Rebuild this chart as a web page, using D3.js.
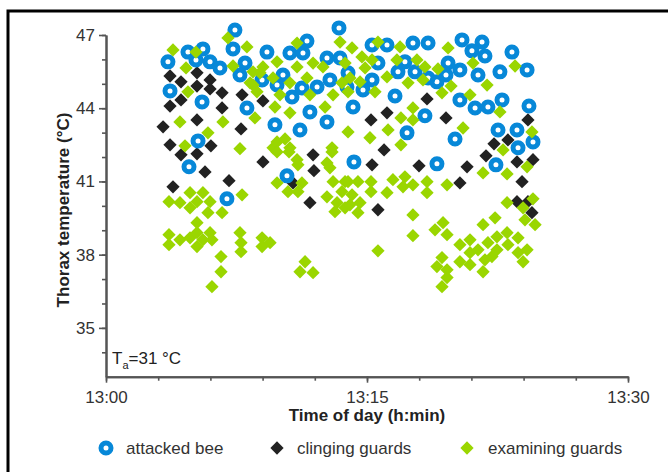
<!DOCTYPE html>
<html>
<head>
<meta charset="utf-8">
<script src="https://cdn.jsdelivr.net/npm/d3@7"></script>
<style>
  body { margin: 0; background: #fff; }
  text { font-family: "Liberation Sans", Arial, sans-serif; }
</style>
</head>
<body>
<div id="chart"></div>
<script>
// minutes after 13:00, thorax temperature (°C)
var attacked = [
  [3.56,45.90],[4.71,46.30],[5.17,45.98],[5.57,46.43],[5.98,45.90],[6.55,45.65],[7.30,46.43],[7.41,47.20],
  [7.99,45.85],[7.70,45.36],[8.97,45.16],[9.25,46.30],[10.17,45.36],[9.83,44.95],[10.57,46.26],[11.32,46.26],
  [11.55,46.75],[10.69,44.46],[11.26,44.83],[12.13,44.87],[12.70,46.06],[13.45,46.06],[12.87,45.16],[13.85,44.87],
  [13.39,47.29],[3.68,44.71],[5.52,44.26],[8.10,44.01],[9.71,43.32],[11.15,43.11],[11.72,43.85],[12.70,43.44],
  [5.29,42.66],[4.77,41.60],[6.95,40.29],[10.40,41.23],[15.29,46.59],[16.15,46.59],[17.64,46.67],[18.51,46.67],
  [20.46,46.80],[21.61,46.71],[21.03,46.35],[21.78,46.14],[23.33,46.30],[24.20,45.57],[22.64,45.49],[21.38,45.36],
  [20.34,45.57],[19.66,45.85],[19.54,45.36],[19.02,45.08],[17.76,45.49],[17.18,45.90],[16.78,45.49],[15.63,45.85],
  [15.29,45.16],[14.77,44.75],[13.91,45.45],[14.20,44.05],[16.61,44.50],[18.33,43.69],[17.30,42.99],[20.34,44.34],
  [21.21,44.01],[21.95,44.05],[22.76,44.34],[24.31,44.09],[22.53,43.11],[23.62,43.11],[24.54,42.62],[23.68,42.38],
  [20.06,42.74],[14.25,41.80],[19.02,41.72],[22.41,41.68],[18.51,45.24]
];

var clinging = [
  [3.68,45.32],[4.31,45.08],[5.23,45.45],[5.23,44.91],[5.98,45.16],[5.98,44.79],[6.67,44.63],[7.82,44.55],
  [9.02,44.30],[3.68,44.09],[4.31,44.34],[5.23,43.52],[6.67,44.01],[3.28,43.24],[7.76,43.15],[3.68,42.50],
  [4.31,42.09],[5.23,42.13],[6.03,42.46],[5.69,41.39],[3.85,40.78],[7.07,41.03],[9.02,41.80],[11.90,42.09],
  [11.95,41.44],[11.72,40.13],[10.75,40.94],[18.45,44.38],[16.15,43.81],[15.23,43.52],[19.54,43.60],[15.98,42.29],
  [15.29,41.68],[17.99,41.64],[20.75,41.60],[20.34,40.94],[15.63,39.84],[24.25,43.52],[23.10,42.70],[22.30,42.54],
  [21.84,42.05],[23.62,41.80],[24.54,41.89],[23.91,40.99],[23.62,40.17],[24.25,40.17],[24.48,39.72]
];

var examining = [
  [3.85,46.39],[5.17,46.30],[7.01,46.88],[8.10,46.51],[4.60,45.65],[7.30,45.73],[8.85,45.45],[8.45,44.95],
  [9.83,45.90],[10.98,46.67],[9.60,45.24],[10.57,45.04],[11.55,45.24],[8.28,45.04],[8.68,44.67],[10.00,44.55],
  [10.98,45.69],[11.90,45.85],[12.47,45.69],[13.45,46.71],[13.74,45.85],[11.72,44.55],[13.56,45.04],[13.05,44.55],
  [4.71,44.67],[9.71,44.05],[10.57,43.81],[12.59,44.05],[8.56,43.60],[4.25,43.44],[6.72,43.44],[5.86,42.99],
  [4.54,42.46],[7.70,42.34],[9.60,42.38],[9.83,42.62],[10.29,42.74],[10.57,42.38],[12.99,42.38],[13.91,43.03],
  [10.52,42.21],[9.83,42.21],[10.98,41.89],[11.03,41.68],[12.70,41.76],[12.87,41.56],[13.05,40.99],[9.83,40.94],
  [10.46,40.58],[11.03,40.58],[11.26,40.94],[12.70,40.37],[13.28,40.13],[13.56,40.58],[13.16,39.76],[13.74,39.92],
  [13.74,40.99],[12.99,42.21],[7.82,40.45],[9.02,45.69],[8.45,45.49],
  [3.62,40.17],[4.25,40.13],[4.83,40.54],[5.57,40.54],[5.23,40.17],[5.98,40.17],[4.83,39.92],[5.86,39.72],
  [6.67,39.72],[5.23,39.31],[3.62,38.82],[3.62,38.41],[4.25,38.61],[4.83,38.69],[5.23,38.90],[5.98,38.90],
  [5.23,38.33],[5.57,38.61],[6.09,38.61],[7.70,38.90],[7.76,38.49],[7.76,38.12],[8.97,38.69],[9.43,38.49],
  [8.97,38.33],[6.61,37.92],[6.61,37.30],[6.09,36.69],[11.44,37.71],[11.15,37.30],[11.90,37.26],
  [13.91,40.99],[14.48,40.99],[15.23,40.99],[15.23,40.58],[14.14,40.45],[14.60,40.13],[14.02,40.04],[14.48,39.72],
  [16.15,40.54],[16.49,41.07],[17.18,41.19],[17.07,40.78],[17.64,40.86],[18.45,40.99],[18.45,40.54],[19.60,40.86],
  [21.67,41.35],[23.05,41.31],[24.20,41.60],[23.05,40.13],[24.54,40.29],[23.97,39.92],[24.08,39.43],[24.66,39.23],
  [22.82,42.29],[17.64,39.63],[17.64,38.78],[15.63,38.16],[21.67,39.23],[22.36,39.51],[18.91,39.02],[19.37,39.31],
  [19.60,38.82],[19.31,37.88],[19.02,37.51],[19.60,37.38],[19.60,37.06],[19.31,36.69],[20.34,38.41],[20.92,38.61],
  [20.34,37.71],[20.92,38.08],[20.92,37.59],[21.38,38.20],[21.95,38.49],[21.78,37.79],[22.47,38.73],[22.47,38.20],
  [23.05,38.90],[23.10,38.41],[23.68,38.69],[23.68,38.08],[24.20,38.20],[23.97,37.71],[21.67,37.30],[22.18,37.92],
  [14.14,46.47],[15.63,46.71],[16.90,46.51],[19.66,46.47],[23.51,45.73],[21.09,45.85],[14.71,46.10],[15.29,45.98],
  [14.89,45.65],[16.72,45.98],[17.87,45.98],[18.33,45.69],[19.08,45.61],[16.15,45.28],[17.36,45.04],[18.22,45.16],
  [14.02,45.24],[14.60,45.08],[13.91,44.67],[15.46,44.67],[19.31,44.63],[19.83,44.91],[21.90,44.95],[20.92,44.55],
  [22.64,43.85],[17.64,44.01],[16.95,43.60],[17.64,43.52],[16.21,43.11],[15.17,42.79],[16.95,42.50],[20.52,43.19],
  [24.48,43.03]
];

var xMajor = [0, 15, 30];
var xMinor = [0, 3, 6, 9, 12, 15, 18, 21, 24, 27, 30];
var xLabels = ["13:00", "13:15", "13:30"];
var yMajor = [35, 38, 41, 44, 47];
var yMinor = [34, 35, 36, 37, 38, 39, 40, 41, 42, 43, 44, 45, 46, 47];

var w = 668, h = 472;
var blue = "#0788d8", green = "#9ad600", dark = "#222";

var svg = d3.select("#chart").append("svg")
  .attr("width", w)
  .attr("height", h);

svg.append("rect").attr("width", w).attr("height", h).attr("fill", "#fff");

// frame
svg.append("path")
  .attr("d", "M8,472V11H668")
  .attr("fill", "none")
  .attr("stroke", "#000")
  .attr("stroke-width", 3);

var x = d3.scaleLinear().domain([0, 30]).range([106, 628]);
var y = d3.scaleLinear().domain([33, 47]).range([376.7, 35]);

// x axis
var gx = svg.append("g").attr("transform", "translate(0," + y(33) + ")");
gx.call(d3.axisBottom(x).tickValues(xMinor).tickSize(4).tickSizeOuter(0).tickFormat(""));
gx.append("g").call(d3.axisBottom(x).tickValues(xMajor).tickSize(6).tickSizeOuter(0).tickPadding(8)
  .tickFormat(function(d, i){ return xLabels[i]; }));

// y axis
var gy = svg.append("g").attr("transform", "translate(" + x(0) + ",0)");
gy.call(d3.axisLeft(y).tickValues(yMinor).tickSize(4).tickSizeOuter(0).tickFormat(""));
gy.append("g").call(d3.axisLeft(y).tickValues(yMajor).tickSize(7).tickSizeOuter(0).tickPadding(4));

svg.selectAll(".domain").attr("stroke", "#555").attr("stroke-width", 2);
svg.selectAll(".tick line").attr("stroke", "#555").attr("stroke-width", 1.6);
svg.selectAll(".tick text").attr("fill", "#333").style("font-size", "17px")
  .style("font-family", "'Liberation Sans', Arial, sans-serif");

// titles
svg.append("text")
  .attr("x", 367).attr("y", 421)
  .attr("text-anchor", "middle")
  .attr("font-weight", "bold")
  .attr("font-size", 17)
  .attr("fill", "#222")
  .text("Time of day (h:min)");

svg.append("text")
  .attr("transform", "translate(69,210) rotate(-90)")
  .attr("text-anchor", "middle")
  .attr("font-weight", "bold")
  .attr("font-size", 17)
  .attr("fill", "#222")
  .text("Thorax temperature (°C)");

var ta = svg.append("text")
  .attr("x", 112).attr("y", 364)
  .attr("font-size", 17)
  .attr("fill", "#222");
ta.append("tspan").text("T");
ta.append("tspan").attr("font-size", 11).attr("dy", 5).text("a");
ta.append("tspan").attr("dy", -5).text("=31 °C");

// points
var diamond = d3.symbol().type(d3.symbolSquare).size(88);

svg.append("g").selectAll("path")
  .data(clinging)
  .join("path")
    .attr("transform", function(d){ return "translate(" + x(d[0]) + "," + y(d[1]) + ") rotate(45)"; })
    .attr("d", diamond)
    .attr("fill", dark);

svg.append("g").selectAll("circle")
  .data(attacked)
  .join("circle")
    .attr("cx", function(d){ return x(d[0]); })
    .attr("cy", function(d){ return y(d[1]); })
    .attr("r", 5)
    .attr("fill", "none")
    .attr("stroke", blue)
    .attr("stroke-width", 5);

svg.append("g").selectAll("path")
  .data(examining)
  .join("path")
    .attr("transform", function(d){ return "translate(" + x(d[0]) + "," + y(d[1]) + ") rotate(45)"; })
    .attr("d", diamond)
    .attr("fill", green);

// legend
var legY = 448;
svg.append("circle")
  .attr("cx", 106).attr("cy", legY).attr("r", 5)
  .attr("fill", "none").attr("stroke", blue).attr("stroke-width", 5);
svg.append("path")
  .attr("transform", "translate(277," + legY + ") rotate(45)")
  .attr("d", diamond).attr("fill", dark);
svg.append("path")
  .attr("transform", "translate(467," + legY + ") rotate(45)")
  .attr("d", diamond).attr("fill", green);

var legText = [[126, "attacked bee"], [297, "clinging guards"], [488, "examining guards"]];
legText.forEach(function(l){
  svg.append("text")
    .attr("x", l[0]).attr("y", legY + 6)
    .attr("font-size", 17)
    .attr("fill", "#333")
    .text(l[1]);
});
</script>
</body>
</html>
